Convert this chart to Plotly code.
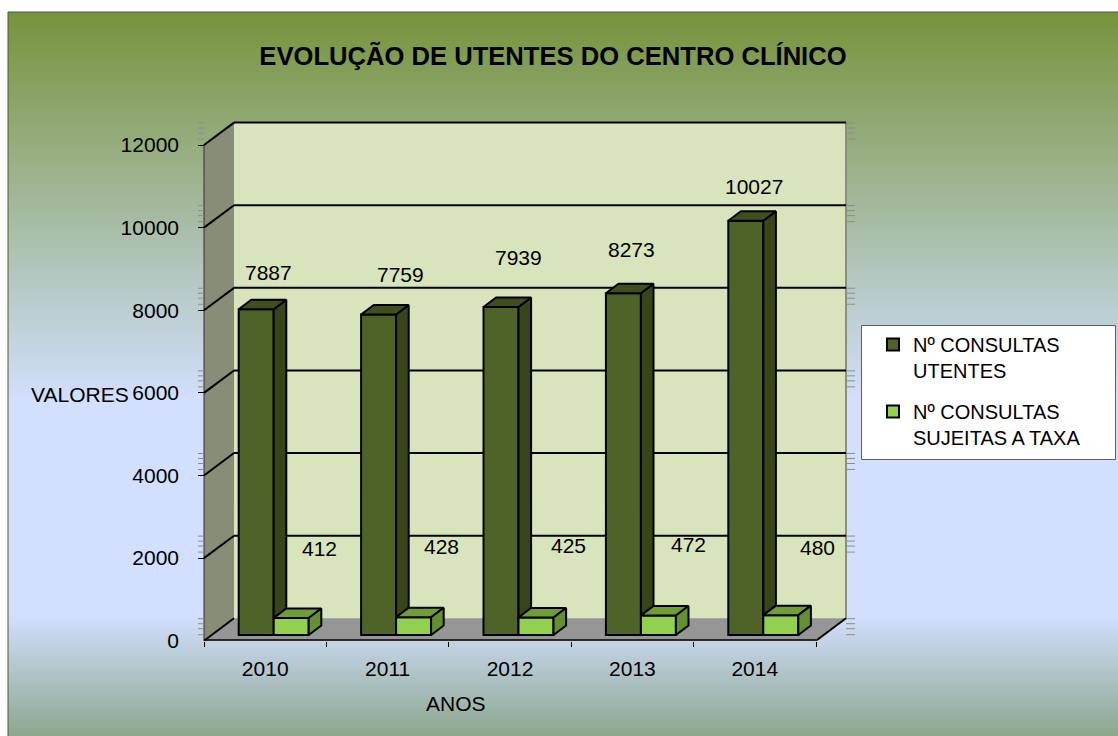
import plotly.graph_objects as go

# ---- data ----
years = ["2010", "2011", "2012", "2013", "2014"]
consultas_utentes = [7887, 7759, 7939, 8273, 10027]
consultas_taxa = [412, 428, 425, 472, 480]
y_ticks = [0, 2000, 4000, 6000, 8000, 10000, 12000]
title_text = "EVOLUÇÃO DE UTENTES DO CENTRO CLÍNICO"
name_utentes = "Nº CONSULTAS<br>UTENTES"
name_taxa = "Nº CONSULTAS<br>SUJEITAS A TAXA"

# label nudges (pixels) relative to each bar's top
shift_utentes_x = [12, 22, 17, 8, 8]
shift_utentes_y = [37, 40, 50, 44, 34]
shift_taxa_x = [28, 28, 32, 30, 37]
shift_taxa_y = [69, 71, 72, 71, 68]

# ---- geometry of the pseudo-3D frame ----
W, H = 1118, 736
PX_L, PX_R, PX_T, PX_B = 204.0, 816.0, 145.0, 640.7
PX_PER_CAT = (PX_R - PX_L) / 5
PX_PER_VAL = (PX_B - PX_T) / 12000
def cx(px): return px / PX_PER_CAT
def vy(px): return px / PX_PER_VAL

WALL_DX, WALL_DY = cx(30), vy(22.4)
BAR_BASE = vy(5.7)
BAR_W = cx(35)
BAR_START = cx(34.7) - 0.5
BAR_DX, BAR_DY = cx(12.6), vy(9.5)
FONT = "Liberation Sans, Arial, sans-serif"
FS = 21

X0, X1 = -0.5, 4.5
Y1 = 12000
# plot area reaches past the front plane so the walls are not clipped
AX_L, AX_R, AX_T = 198.0, 857.0, 118.0
RANGE_X = [X0 - cx(PX_L - AX_L), X1 + cx(AX_R - PX_R)]
RANGE_Y = [0, vy(PX_B - AX_T)]

fig = go.Figure()

# page gradient (heatmap on its own full-page axes, drawn first)
stops = [(12, "#76933c"), (400, "#d2dffe"), (615, "#d2dffe"), (736, "#8ca78e")]
n_rows = 362
rows = [12 + (736 - 12) * k / (n_rows - 1) for k in range(n_rows)]
scale = [[(p - 12) / (736 - 12), c] for p, c in stops]
fig.add_trace(go.Heatmap(z=[[r, r] for r in rows], x=[0, 1], y=rows, colorscale=scale,
                         zmin=12, zmax=736, showscale=False, hoverinfo="skip",
                         xaxis="x", yaxis="y"))

def path(pts):
    return "M" + " L".join(f"{x},{y}" for x, y in pts) + " Z"

shapes = []
def data_shape(pts, fill, line="rgba(0,0,0,0)", width=0, layer="below"):
    shapes.append(dict(type="path", path=path(pts), xref="x2", yref="y2", fillcolor=fill,
                       line=dict(color=line, width=width), layer=layer))
def data_line(xa, ya, xb, yb, color="black", width=2, layer="below"):
    shapes.append(dict(type="line", x0=xa, y0=ya, x1=xb, y1=yb, xref="x2", yref="y2",
                       line=dict(color=color, width=width), layer=layer))

# walls and floor
data_shape([(X0 + WALL_DX, WALL_DY), (X1 + WALL_DX, WALL_DY), (X1 + WALL_DX, Y1 + WALL_DY),
            (X0 + WALL_DX, Y1 + WALL_DY)], "#d8e4bc")
data_shape([(X0, 0), (X0 + WALL_DX, WALL_DY), (X0 + WALL_DX, Y1 + WALL_DY), (X0, Y1)], "#888d78")
data_shape([(X0, 0), (X1, 0), (X1 + WALL_DX, WALL_DY), (X0 + WALL_DX, WALL_DY)], "#969696")
data_line(X1 + WALL_DX, WALL_DY, X1 + WALL_DX, Y1 + WALL_DY, color="#8a8f80", width=2)
data_line(X0, 0, X0, Y1, color="#303030", width=1)

# ghost ticks beside the frame
for t in y_ticks:
    for off in (6, 12, 17, 22):
        v = t + vy(off)
        data_line(X0 - cx(6), v, X0, v, color="#8c8c8c", width=1)
        data_line(X1 + WALL_DX, v, X1 + WALL_DX + cx(9), v, color="#8c8c8c", width=1)

# grid lines on back wall + side wall
for t in y_ticks[1:]:
    data_line(X0 + WALL_DX, t + WALL_DY, X1 + WALL_DX, t + WALL_DY)
    data_line(X0, t, X0 + WALL_DX, t + WALL_DY)
data_line(X0, 0, X0 + WALL_DX, WALL_DY, width=2)
data_line(X1, 0, X1 + WALL_DX, WALL_DY, width=2)
data_line(X0, 0, X1, 0, width=3)

# front faces (real bars bound to the data)
xs = list(range(5))
fig.add_trace(go.Bar(x=xs, y=consultas_utentes, base=BAR_BASE, width=BAR_W, offset=BAR_START,
                     name=name_utentes, legendgroup="a",
                     marker=dict(color="#4f6228", line=dict(color="black", width=2)),
                     xaxis="x2", yaxis="y2"))
fig.add_trace(go.Bar(x=xs, y=consultas_taxa, base=BAR_BASE, width=BAR_W, offset=BAR_START + BAR_W,
                     name=name_taxa, legendgroup="b",
                     marker=dict(color="#92d050", line=dict(color="black", width=2)),
                     xaxis="x2", yaxis="y2"))

# side + top faces derived from the values
def polys(list_of_pts, fill):
    px, py = [], []
    for pts in list_of_pts:
        for a, b in pts + [pts[0]]:
            px.append(a); py.append(b)
        px.append(None); py.append(None)
    fig.add_trace(go.Scatter(x=px, y=py, mode="lines", fill="toself", fillcolor=fill,
                             line=dict(color="black", width=2), hoverinfo="skip",
                             showlegend=False, xaxis="x2", yaxis="y2"))

dark_side, dark_top, light_side, light_top = [], [], [], []
for i, (v, w) in enumerate(zip(consultas_utentes, consultas_taxa)):
    l = i + BAR_START
    m = l + BAR_W
    r = m + BAR_W
    top_d = BAR_BASE + v
    top_l = BAR_BASE + w
    dark_side.append([(m, top_l), (m, top_d), (m + BAR_DX, top_d + BAR_DY), (m + BAR_DX, top_l + BAR_DY)])
    dark_top.append([(l, top_d), (m, top_d), (m + BAR_DX, top_d + BAR_DY), (l + BAR_DX, top_d + BAR_DY)])
    light_top.append([(m, top_l), (r, top_l), (r + BAR_DX, top_l + BAR_DY), (m + BAR_DX, top_l + BAR_DY)])
    light_side.append([(r, BAR_BASE), (r, top_l), (r + BAR_DX, top_l + BAR_DY), (r + BAR_DX, BAR_BASE + BAR_DY)])
polys(dark_side, "#374518")
polys(dark_top, "#3f4e1f")
polys(light_top, "#6f9e38")
polys(light_side, "#648f32")

# value labels
ann = []
for i in xs:
    ann.append(dict(x=i + BAR_START + BAR_W / 2, y=BAR_BASE + consultas_utentes[i], xref="x2", yref="y2",
                    text=str(consultas_utentes[i]), showarrow=False, xshift=shift_utentes_x[i],
                    yshift=shift_utentes_y[i], xanchor="center", yanchor="middle",
                    font=dict(family=FONT, size=FS, color="black")))
    ann.append(dict(x=i + BAR_START + 1.5 * BAR_W, y=BAR_BASE + consultas_taxa[i], xref="x2", yref="y2",
                    text=str(consultas_taxa[i]), showarrow=False, xshift=shift_taxa_x[i],
                    yshift=shift_taxa_y[i], xanchor="center", yanchor="middle",
                    font=dict(family=FONT, size=FS, color="black")))
ann.append(dict(x=80 / W, y=1 - 394 / H, xref="paper", yref="paper", text="VALORES", showarrow=False,
                xanchor="center", yanchor="middle", font=dict(family=FONT, size=FS, color="black")))
ann.append(dict(x=456 / W, y=1 - 703 / H, xref="paper", yref="paper", text="ANOS", showarrow=False,
                xanchor="center", yanchor="middle", font=dict(family=FONT, size=FS, color="black")))

# page border + legend box
shapes.append(dict(type="rect", x0=8 / W, x1=1.01, y0=-0.01, y1=1 - 12 / H, xref="paper", yref="paper",
                   line=dict(color="#4a5c22", width=1), layer="above"))
shapes.append(dict(type="rect", x0=861.5 / W, x1=1115.5 / W, y0=1 - 459.5 / H, y1=1 - 325.5 / H,
                   xref="paper", yref="paper", fillcolor="white",
                   line=dict(color="#606060", width=1), layer="above"))

fig.update_layout(
    width=W, height=H, margin=dict(l=0, r=0, t=0, b=0, autoexpand=False), autosize=False,
    paper_bgcolor="white", plot_bgcolor="rgba(0,0,0,0)", barmode="overlay",
    font=dict(family=FONT, size=FS, color="black"),
    title=dict(text=f"<b>{title_text}</b>", x=553 / W, y=1 - 56 / H, xanchor="center", yanchor="middle",
               font=dict(family=FONT, size=25.6, color="black")),
    xaxis=dict(domain=[8 / W, 1], range=[0, 1], visible=False, fixedrange=True),
    yaxis=dict(domain=[0, 1 - 12 / H], range=[736, 12], visible=False, fixedrange=True),
    xaxis2=dict(domain=[AX_L / W, AX_R / W], range=RANGE_X, anchor="y2", showgrid=False, zeroline=False,
                showline=False, tickmode="array", tickvals=xs, ticktext=years, ticks="",
                ticklabelstandoff=13, tickfont=dict(family=FONT, size=FS),
                minor=dict(tickmode="array", tickvals=[k - 0.5 for k in range(6)], ticks="outside",
                           ticklen=5, tickcolor="black", tickwidth=1, showgrid=False)),
    yaxis2=dict(domain=[1 - PX_B / H, 1 - AX_T / H], range=RANGE_Y, anchor="x2", showgrid=False, zeroline=False,
                showline=False, tickmode="array", tickvals=y_ticks, ticktext=[str(t) for t in y_ticks],
                ticks="inside", ticklen=6, tickcolor="black", ticklabelstandoff=18,
                tickfont=dict(family=FONT, size=FS)),
    legend=dict(x=873 / W, y=1 - 325 / H, xanchor="left", yanchor="top", bgcolor="rgba(0,0,0,0)",
                borderwidth=0, tracegroupgap=12, valign="top",
                font=dict(family=FONT, size=20, color="black")),
    shapes=shapes, annotations=ann, showlegend=True,
)

fig.write_html("out.html", config={"displayModeBar": False},
               post_script="document.body.style.margin='0';document.body.style.overflow='hidden';")
